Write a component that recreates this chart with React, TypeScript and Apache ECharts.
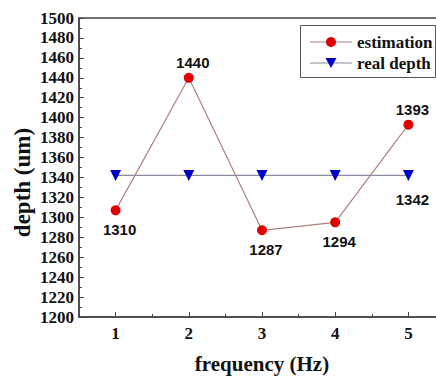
import React, { useEffect, useRef } from "react";
import * as echarts from "echarts";

const categories = ["1", "2", "3", "4", "5"];
const estimation = [1307, 1440, 1287, 1295, 1393];
const estimationLabels = ["1310", "1440", "1287", "1294", "1393"];
const realDepth = [1342, 1342, 1342, 1342, 1342];
const realDepthLabels = ["", "", "", "", "1342"];
const estimationLabelAbove = [false, true, false, false, true];
const seriesNames = ["estimation", "real depth"];

const SERIF = "Liberation Serif";
const SANS = "Liberation Sans";
const EST_COLOR = "#e00000";
const EST_LINE = "#b08080";
const REAL_COLOR = "#0000c8";
const REAL_LINE = "#8c8ca0";

export default function App() {
  const ref = useRef<HTMLDivElement>(null);
  useEffect(() => {
    if (!ref.current) return;
    const chart = echarts.init(ref.current, undefined, { renderer: "svg" });
    const legendFont = `bold 17px "${SERIF}"`;
    chart.setOption({
      animation: false,
      backgroundColor: "#ffffff",
      grid: {
        left: 79,
        top: 18,
        right: 15,
        bottom: 60,
        outerBoundsMode: "none",
        containLabel: false,
        show: true,
        borderColor: "#444",
        borderWidth: 1.5,
        backgroundColor: "transparent",
      },
      xAxis: [
        {
          type: "category",
          data: categories,
          boundaryGap: true,
          axisLine: { show: true, lineStyle: { color: "#444", width: 1.5 } },
          axisTick: { show: true, inside: true, alignWithLabel: true, length: 5, lineStyle: { color: "#444" } },
          axisLabel: { fontFamily: SERIF, fontWeight: "bold", fontSize: 17, color: "#111", margin: 8 },
          splitLine: { show: false },
        },
        {
          type: "value",
          position: "bottom",
          min: 0.5,
          max: 5.5,
          interval: 0.5,
          axisLine: { show: false },
          axisTick: { show: true, inside: true, length: 3, lineStyle: { color: "#444" } },
          axisLabel: { show: false },
          splitLine: { show: false },
        },
      ],
      yAxis: {
        type: "value",
        min: 1200,
        max: 1500,
        interval: 20,
        axisLine: { show: true, lineStyle: { color: "#444", width: 1.5 } },
        axisTick: { show: true, inside: true, length: 5, lineStyle: { color: "#444" } },
        minorTick: { show: true, splitNumber: 2, length: 3, lineStyle: { color: "#444" } },
        axisLabel: {
          fontFamily: SERIF,
          fontWeight: "bold",
          fontSize: 17,
          color: "#111",
          margin: 5,
          formatter: (v: number) => String(v),
        },
        splitLine: { show: false },
      },
      graphic: [
        {
          type: "text",
          x: 22,
          y: 182.5,
          rotation: Math.PI / 2,
          style: {
            text: "depth (um)",
            font: `bold 23px "${SERIF}"`,
            fill: "#111",
            align: "center",
            verticalAlign: "middle",
          },
        },
        {
          type: "text",
          x: 262,
          y: 364,
          style: {
            text: "frequency (Hz)",
            font: `bold 21px "${SERIF}"`,
            fill: "#111",
            align: "center",
            verticalAlign: "middle",
          },
        },
        {
          type: "group",
          z: 100,
          children: [
            {
              type: "rect",
              shape: { x: 300.5, y: 25.5, width: 135, height: 52 },
              style: { fill: "#fff", stroke: "#555", lineWidth: 1 },
            },
            {
              type: "line",
              shape: { x1: 310, y1: 42, x2: 352, y2: 42 },
              style: { stroke: EST_LINE, lineWidth: 1.2 },
            },
            {
              type: "circle",
              shape: { cx: 331, cy: 42, r: 5 },
              style: { fill: EST_COLOR },
            },
            {
              type: "text",
              x: 357,
              y: 42,
              style: { text: seriesNames[0], font: legendFont, fill: "#111", align: "left", verticalAlign: "middle" },
            },
            {
              type: "line",
              shape: { x1: 310, y1: 63, x2: 352, y2: 63 },
              style: { stroke: REAL_LINE, lineWidth: 1.2 },
            },
            {
              type: "polygon",
              shape: { points: [[325.5, 58], [336.5, 58], [331, 68]] },
              style: { fill: REAL_COLOR },
            },
            {
              type: "text",
              x: 357,
              y: 63,
              style: { text: seriesNames[1], font: legendFont, fill: "#111", align: "left", verticalAlign: "middle" },
            },
          ],
        },
      ],
      series: [
        {
          name: seriesNames[1],
          type: "line",
          xAxisIndex: 0,
          data: realDepth.map((v, i) => ({
            value: v,
            label: {
              show: realDepthLabels[i] !== "",
              position: "bottom",
              distance: 11,
              offset: [4, 0],
              formatter: realDepthLabels[i],
            },
          })),
          symbol: "triangle",
          symbolRotate: 180,
          symbolSize: 11,
          itemStyle: { color: REAL_COLOR },
          lineStyle: { color: REAL_LINE, width: 1.2 },
          label: { fontFamily: SANS, fontWeight: "bold", fontSize: 15, color: "#111" },
          z: 2,
        },
        {
          name: seriesNames[0],
          type: "line",
          xAxisIndex: 0,
          data: estimation.map((v, i) => ({
            value: v,
            label: {
              show: true,
              position: estimationLabelAbove[i] ? "top" : "bottom",
              distance: estimationLabelAbove[i] ? 3 : 7,
              offset: [4, 0],
              formatter: estimationLabels[i],
            },
          })),
          symbol: "circle",
          symbolSize: 10,
          itemStyle: { color: EST_COLOR },
          lineStyle: { color: EST_LINE, width: 1.2 },
          label: { fontFamily: SANS, fontWeight: "bold", fontSize: 15, color: "#111" },
          z: 3,
        },
      ],
    });
    return () => chart.dispose();
  }, []);
  return (
    <div
      ref={ref}
      style={{ position: "fixed", left: 0, top: 0, width: 460, height: 377, background: "#fff" }}
    />
  );
}
